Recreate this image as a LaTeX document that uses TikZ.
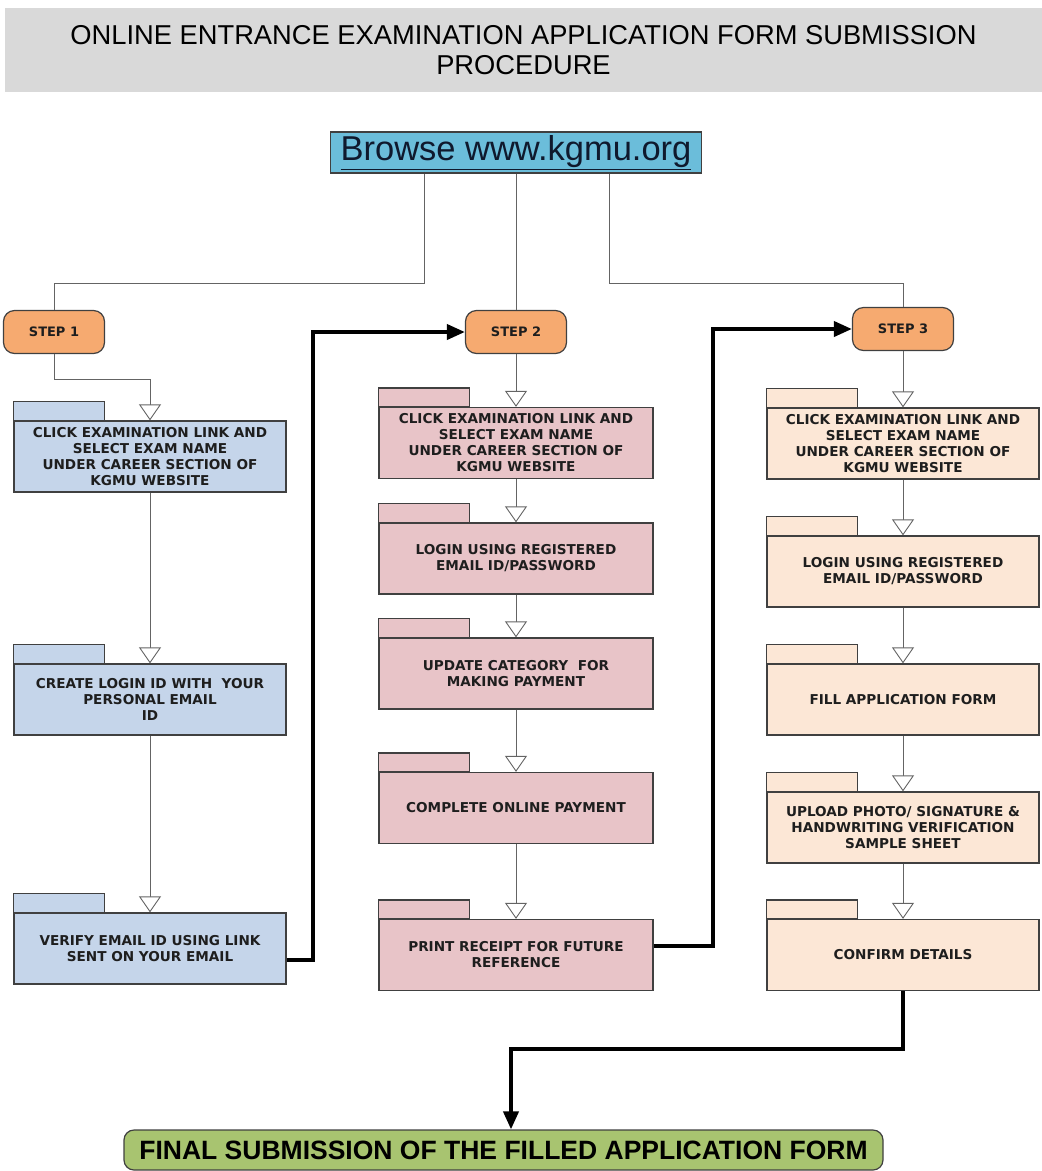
\documentclass[tikz,border=0pt]{standalone}
\usepackage{fontspec}
\setmainfont{Liberation Sans}
\newfontfamily\vfont{DejaVu Sans}
\usetikzlibrary{arrows.meta,calc}
\definecolor{titlegray}{RGB}{217,217,217}
\definecolor{stepfill}{RGB}{246,170,112}
\definecolor{cone}{RGB}{197,213,234}
\definecolor{ctwo}{RGB}{232,196,200}
\definecolor{cthree}{RGB}{252,231,214}
\definecolor{browsefill}{RGB}{107,189,218}
\definecolor{finalfill}{RGB}{168,196,112}
\definecolor{boxline}{RGB}{64,64,64}
\definecolor{linegray}{RGB}{100,100,100}
\definecolor{textdark}{RGB}{30,30,30}
\definecolor{browsetext}{RGB}{15,25,45}
\begin{document}
\begin{tikzpicture}[x=1pt,y=-1pt,
  folderbox/.style={draw=boxline, line width=1.3pt, minimum width=272pt, minimum height=71pt, inner sep=0pt, align=center, text=textdark, font=\vfont\bfseries\fontsize{13.6}{16}\selectfont},
  tabst/.style={draw=boxline, line width=1.3pt},
  stepbox/.style={draw=boxline, line width=1.2pt, fill=stepfill, rounded corners=11pt, minimum width=101pt, minimum height=43pt, inner sep=0pt, text=textdark, font=\vfont\bfseries\fontsize{13}{15}\selectfont},
  thinline/.style={draw=linegray, line width=0.9pt},
  thinarr/.style={draw=linegray, line width=0.9pt, -{Triangle[width=22pt,length=16pt,fill=white]}},
  thickarr/.style={draw=black, line width=3.8pt, -{Triangle[width=15pt,length=18pt]}}
]
\useasboundingbox (0,0) rectangle (1042,1171);

% title
\node[fill=titlegray, minimum width=1037pt, minimum height=84pt, inner sep=0pt, align=center,
      font=\fontsize{27.3}{30}\selectfont, text=black] (title) at (523.5,50)
  {ONLINE ENTRANCE EXAMINATION APPLICATION FORM SUBMISSION\\PROCEDURE};

% browse
\node[draw=boxline, line width=1.2pt, fill=browsefill, minimum width=371pt, minimum height=41pt, inner sep=0pt,
      font=\fontsize{34.5}{36}\selectfont, text=browsetext] (browse) at (516,152.5)
  {\underline{Browse www.kgmu.org}};

% steps
\node[stepbox] (s1) at (54,332) {STEP 1};
\node[stepbox] (s2) at (516,332) {STEP 2};
\node[stepbox] (s3) at (903,329) {STEP 3};

% column 1
\node[folderbox, fill=cone] (b11) at (150,456.5) {CLICK EXAMINATION LINK AND\\SELECT EXAM NAME\\UNDER CAREER SECTION OF\\KGMU WEBSITE};
\node[folderbox, fill=cone] (b12) at (150,699.5) {CREATE LOGIN ID WITH\ \ YOUR\\PERSONAL EMAIL\\ID};
\node[folderbox, fill=cone] (b13) at (150,948.5) {VERIFY EMAIL ID USING LINK\\SENT ON YOUR EMAIL};

% column 2
\node[folderbox, fill=ctwo, minimum width=274pt] (b21) at (516,443) {CLICK EXAMINATION LINK AND\\SELECT EXAM NAME\\UNDER CAREER SECTION OF\\KGMU WEBSITE};
\node[folderbox, fill=ctwo, minimum width=274pt] (b22) at (516,558.5) {LOGIN USING REGISTERED\\EMAIL ID/PASSWORD};
\node[folderbox, fill=ctwo, minimum width=274pt] (b23) at (516,673.5) {UPDATE CATEGORY\ \ FOR\\MAKING PAYMENT};
\node[folderbox, fill=ctwo, minimum width=274pt] (b24) at (516,808) {COMPLETE ONLINE PAYMENT};
\node[folderbox, fill=ctwo, minimum width=274pt] (b25) at (516,955) {PRINT RECEIPT FOR FUTURE\\REFERENCE};

% column 3
\node[folderbox, fill=cthree] (b31) at (903,443.5) {CLICK EXAMINATION LINK AND\\SELECT EXAM NAME\\UNDER CAREER SECTION OF\\KGMU WEBSITE};
\node[folderbox, fill=cthree] (b32) at (903,571.5) {LOGIN USING REGISTERED\\EMAIL ID/PASSWORD};
\node[folderbox, fill=cthree] (b33) at (903,699.5) {FILL APPLICATION FORM};
\node[folderbox, fill=cthree] (b34) at (903,827.5) {UPLOAD PHOTO/ SIGNATURE \&\\HANDWRITING VERIFICATION\\SAMPLE SHEET};
\node[folderbox, fill=cthree] (b35) at (903,955) {CONFIRM DETAILS};

% tabs
\foreach \n/\c in {b11/cone,b12/cone,b13/cone,b21/ctwo,b22/ctwo,b23/ctwo,b24/ctwo,b25/ctwo,b31/cthree,b32/cthree,b33/cthree,b34/cthree,b35/cthree}
  \draw[tabst, fill=\c] (\n.north west) rectangle ++(91,-19);

% final
\node[draw=boxline, line width=1.2pt, fill=finalfill, rounded corners=10pt, minimum width=759pt, minimum height=40pt, inner sep=0pt,
      font=\bfseries\fontsize{26.5}{30}\selectfont, text=black] (final) at (503.5,1150)
  {FINAL SUBMISSION OF THE FILLED APPLICATION FORM};

% thin connectors from browse
\draw[thinline] ([xshift=-92pt]browse.south) -- ++(0,110) -| (s1.north);
\draw[thinline] (browse.south) -- (s2.north);
\draw[thinline] ([xshift=93pt]browse.south) -- ++(0,110) -| (s3.north);

% column flows
\draw[thinarr] (s1.south) -- ++(0,25) -| (b11.north);
\draw[thinarr] (b11.south) -- (b12.north);
\draw[thinarr] (b12.south) -- (b13.north);
\draw[thinarr] (s2.south) -- (b21.north);
\draw[thinarr] (b21.south) -- (b22.north);
\draw[thinarr] (b22.south) -- (b23.north);
\draw[thinarr] (b23.south) -- (b24.north);
\draw[thinarr] (b24.south) -- (b25.north);
\draw[thinarr] (s3.south) -- (b31.north);
\draw[thinarr] (b31.south) -- (b32.north);
\draw[thinarr] (b32.south) -- (b33.north);
\draw[thinarr] (b33.south) -- (b34.north);
\draw[thinarr] (b34.south) -- (b35.north);

% thick connectors
\draw[thickarr] ([yshift=-11.5pt]b13.east) -- ++(26,0) |- (s2.west);
\draw[thickarr] ([yshift=9pt]b25.east) -- ++(59,0) |- (s3.west);
\draw[thickarr] (b35.south) -- ++(0,58) -| ([xshift=7.5pt]final.north);
\end{tikzpicture}
\end{document}
